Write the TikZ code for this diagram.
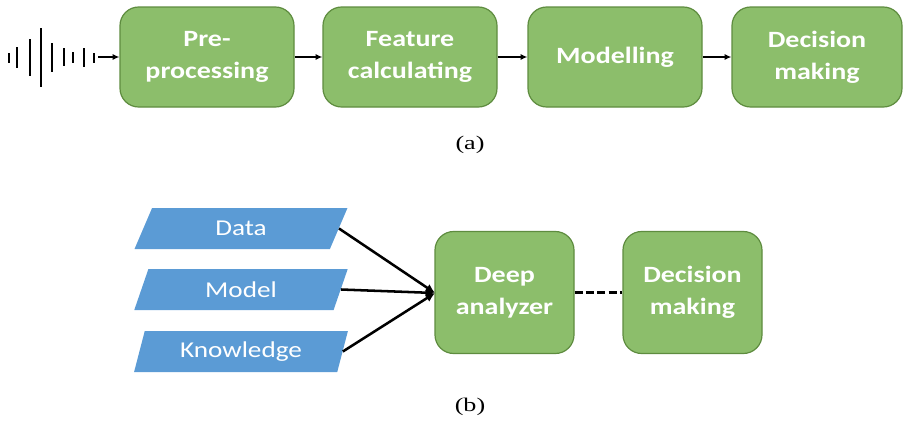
\documentclass[tikz,border=0pt]{standalone}
\usepackage{fontspec}
\setmainfont{Liberation Serif}
\newfontfamily\carlitofont[FakeStretch=1.2]{Carlito}
\newfontfamily\labelfont[FakeStretch=1.35]{Liberation Serif}
\usetikzlibrary{arrows.meta,shapes.geometric}
\definecolor{gfill}{HTML}{8CBE6B}
\definecolor{gline}{HTML}{5E8C3F}
\definecolor{bfill}{HTML}{5B9BD5}
\tikzset{
  gbox/.style={draw=gline, line width=0.9pt, fill=gfill, rounded corners=14pt,
    minimum width=174*0.75pt, minimum height=100*0.75pt, inner sep=0pt,
    align=center, text=white, font=\carlitofont\bfseries\fontsize{17.5}{24}\selectfont},
  gboxb/.style={gbox, minimum width=139*0.75pt, minimum height=122*0.75pt},
  para/.style={trapezium, trapezium left angle=71, trapezium right angle=109,
    fill=bfill, draw=none, minimum width=214*0.75pt, minimum height=41*0.75pt,
    inner sep=0pt, text=white, font=\carlitofont\fontsize{17}{20}\selectfont,
    trapezium stretches=true},
  arr/.style={-{Latex[length=5pt,width=4.5pt]}, line width=1.1pt},
  arrb/.style={-{Latex[length=7pt,width=6.5pt]}, line width=1.9pt},
  wave/.style={line width=1.3pt},
  lab/.style={font=\labelfont\fontsize{14.5}{16}\selectfont}
}
\begin{document}
\begin{tikzpicture}[x=0.75pt,y=-0.75pt]
\useasboundingbox (0,0) rectangle (903,421);
% row (a)
\node[gbox] (pre) at (207,57) {Pre-\\processing};
\node[gbox] (feat) at (410,57) {Feature\\calculating};
\node[gbox] (mod) at (615,57) {Modelling};
\node[gbox, minimum width=170*0.75pt] (dec) at (817,57) {Decision\\making};
% waveform
\foreach \x/\a/\b in {9/53/63, 17/47/68, 30/39/76, 41/28/87, 52/43/72, 64/48/66, 73/52/63, 84/48/67, 94/53/63}
  \draw[wave] (\x,\a) -- (\x,\b);
\coordinate (ws) at (98,57);
\draw[arr] (ws) -- (pre.west);
\draw[arr] (pre) -- (feat);
\draw[arr] (feat) -- (mod);
\draw[arr] (mod) -- (dec);
\node[lab] (la) at (470,145) {(a)};
% row (b)
\node[para] (data) at (241,228.5) {Data};
\node[para] (model) at (241,289.5) {Model};
\node[para] (know) at (241,351.5) {Knowledge};
\node[gboxb] (deep) at (504.5,292.5) {Deep\\analyzer};
\node[gboxb] (decb) at (692.5,292.5) {Decision\\making};
\coordinate (tip) at (435,293);
\draw[arrb] (data.east) -- (tip);
\draw[arrb] (model.east) -- (tip);
\draw[arrb] (know.east) -- (tip);
\draw[line width=1.9pt, dash pattern=on 6pt off 2.5pt] (deep.east) -- (decb.west);
\node[lab] (lb) at (470,407) {(b)};
\end{tikzpicture}
\end{document}
